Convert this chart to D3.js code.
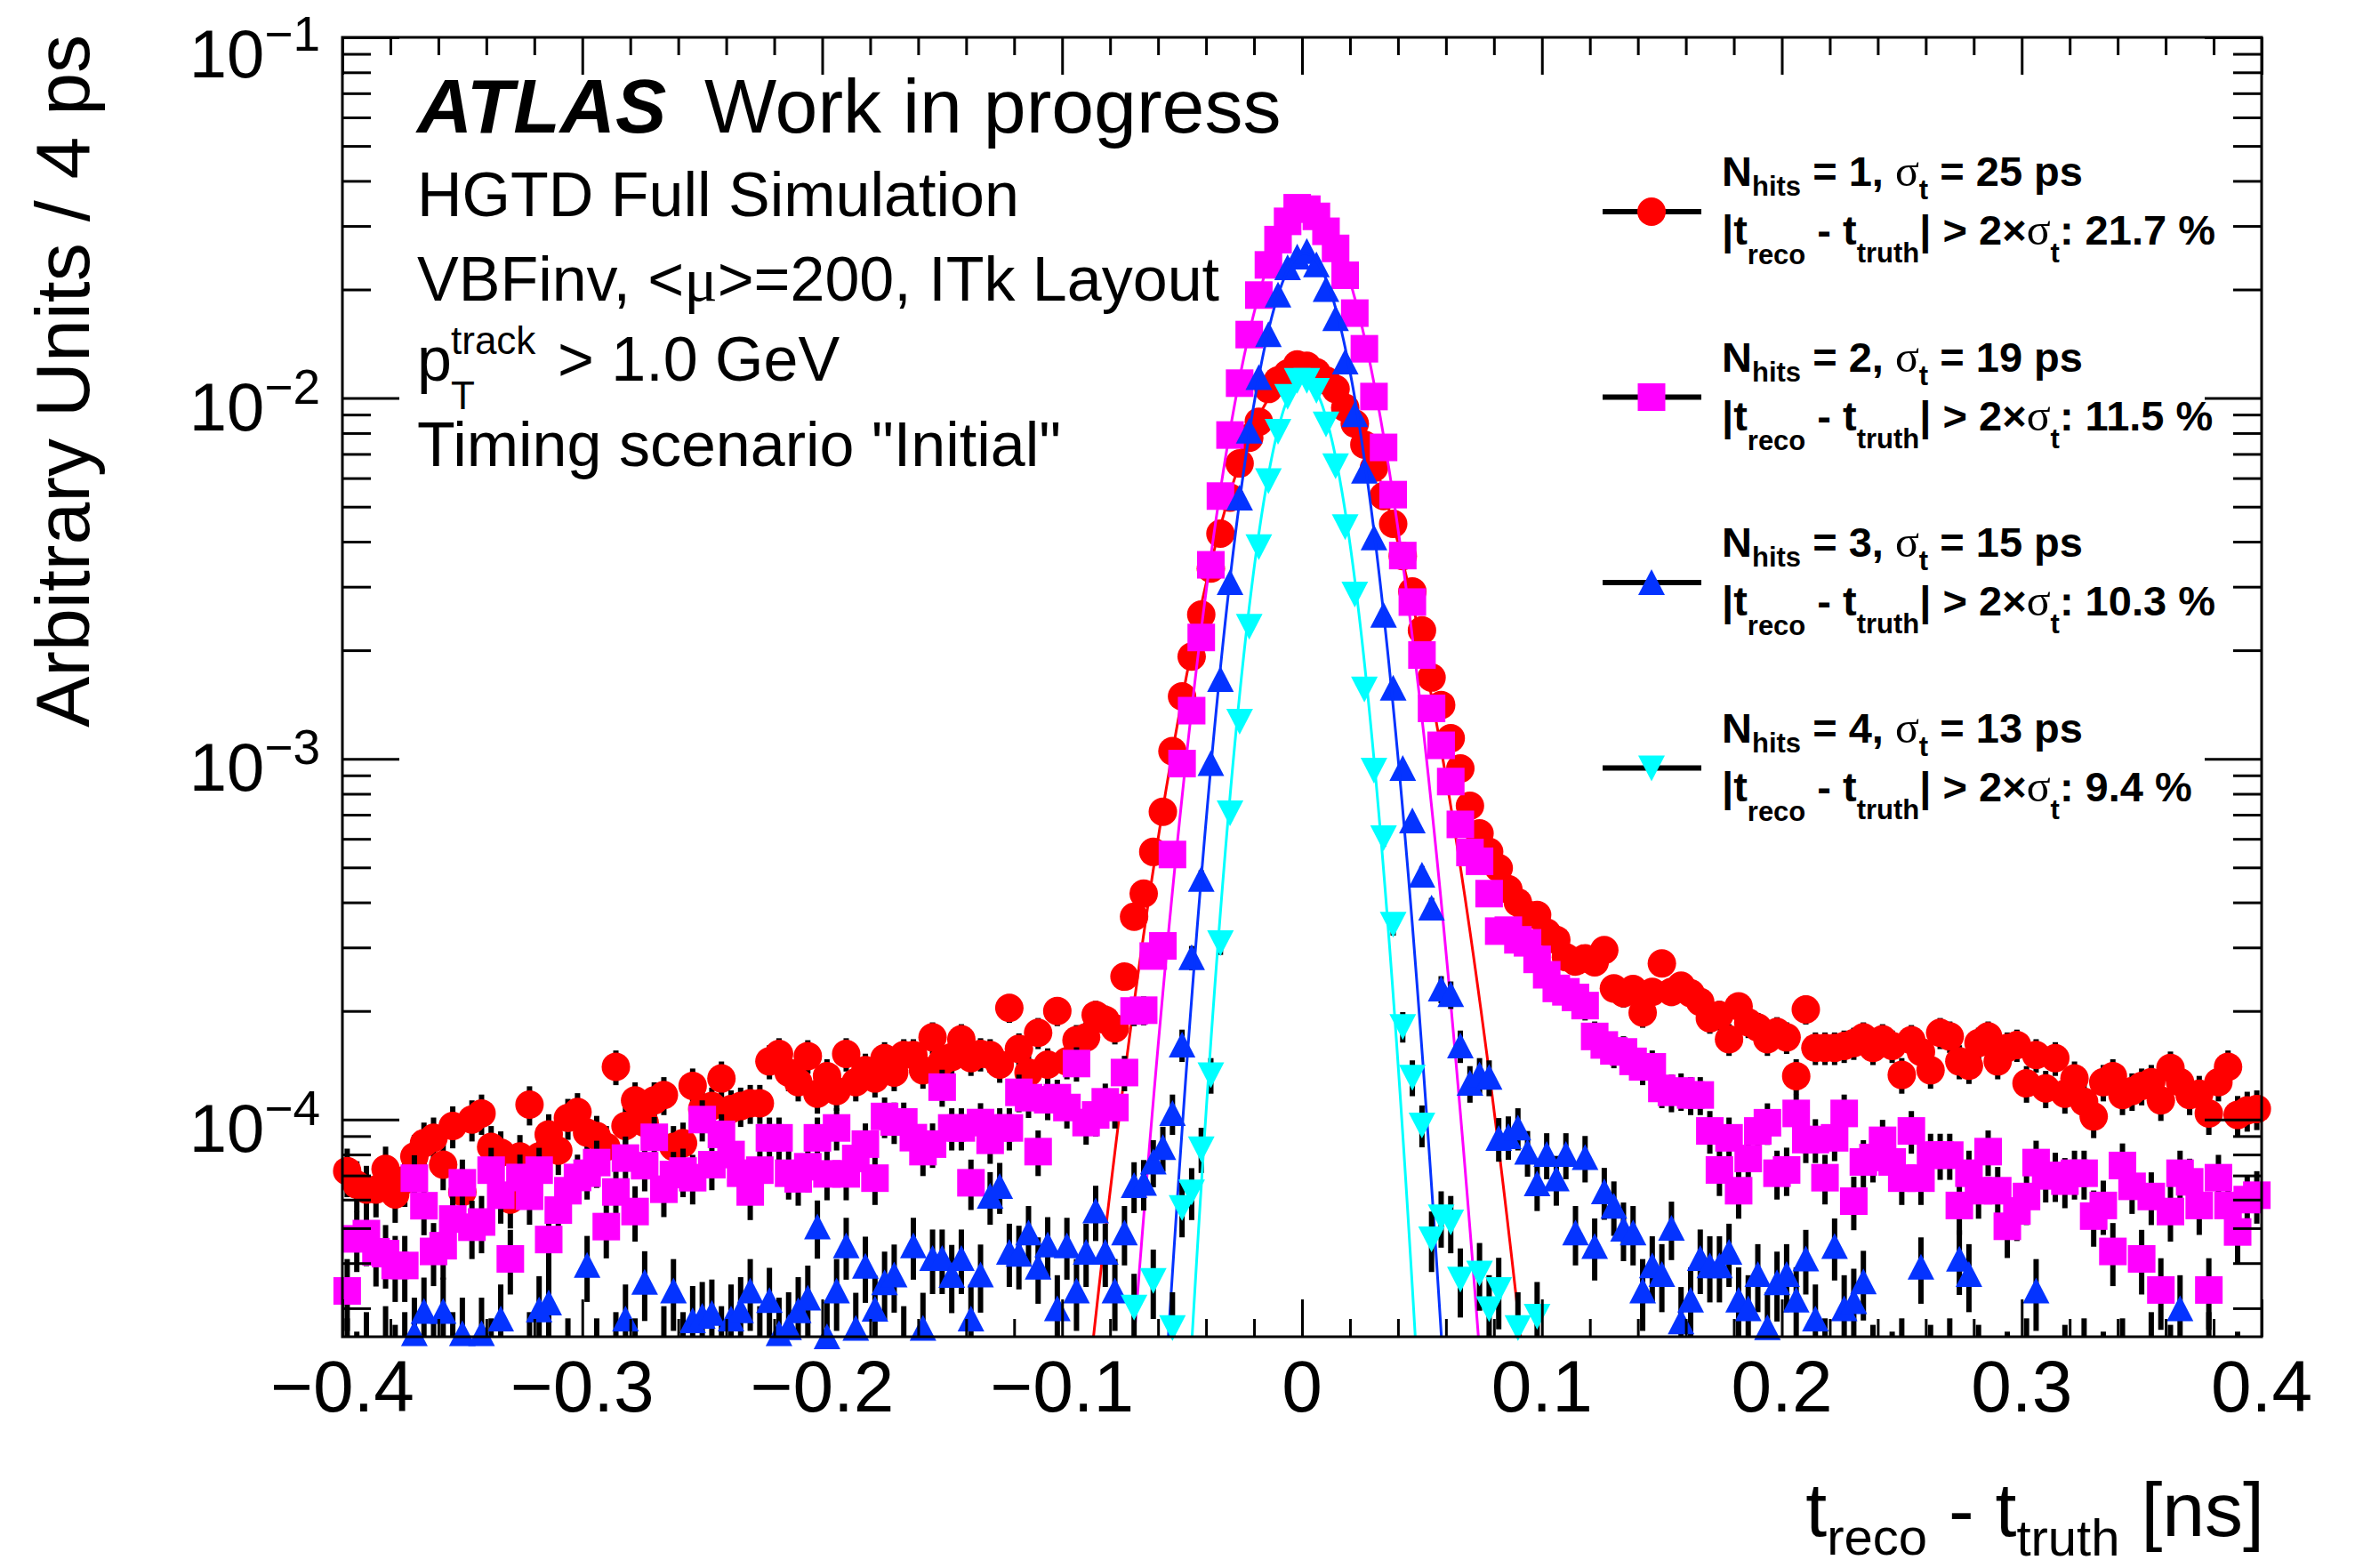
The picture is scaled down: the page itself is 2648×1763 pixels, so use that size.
<!DOCTYPE html>
<html>
<head>
<meta charset="utf-8">
<script src="https://cdn.jsdelivr.net/npm/d3@7"></script>
<style>
  body { margin: 0; background: #fff; }
  text { font-family: "Liberation Sans", Arial, Helvetica, sans-serif; fill: #000; }
  .greek { font-family: "Liberation Serif", "DejaVu Serif", serif; font-weight: normal; }
</style>
</head>
<body>
<svg id="chart" width="2648" height="1763"></svg>
<script>
// histogram binning: 200 bins of 4 ps between -0.4 and 0.4 ns
var xMin = -0.4, xMax = 0.4, nBins = 200;
var UNIT = 1e-5; // bin contents below are in units of 1e-5

// N_hits = 1 (red circles)
var red = [
  7.2, 6.6, 6.4, 6.4, 7.3, 6.2, 6.8, 7.9, 8.6, 8.9,
  7.5, 9.6, 6.3, 10.0, 10.4, 8.4, 8.1, 6.0, 7.9, 11.0,
  7.9, 9.1, 8.2, 10.1, 10.5, 9.2, 9.0, 8.4, 14.0, 9.6,
  11.3, 9.8, 11.3, 11.7, 8.4, 8.6, 12.4, 10.7, 10.9, 13.0,
  10.7, 10.9, 11.1, 11.1, 14.5, 15.2, 13.5, 12.7, 15.0, 11.8,
  13.2, 12.0, 15.2, 12.7, 13.7, 13.0, 14.8, 13.5, 15.1, 15.1,
  13.7, 16.9, 14.5, 14.9, 16.7, 14.8, 15.2, 15.1, 14.2, 20.4,
  15.7, 13.5, 17.4, 14.2, 20.0, 14.5, 16.6, 16.9, 19.5, 18.9,
  17.9, 24.9, 36.5, 42.3, 55.2, 71.3, 105, 149, 192, 251,
  337, 421, 530, 659, 776, 860, 1060, 1120, 1170, 1240,
  1230, 1180, 1120, 1060, 940, 850, 743, 641, 535, 448,
  365, 291, 227, 168, 141, 114, 94, 74.1, 62.1, 55.2,
  49.8, 43.5, 40.0, 37.0, 36.9, 33.0, 31.5, 28.2, 27.4, 28.0,
  27.3, 29.5, 23.1, 22.4, 23.0, 19.8, 22.6, 27.1, 22.6, 23.5,
  22.4, 21.2, 19.1, 19.5, 16.7, 20.6, 18.6, 18.0, 16.7, 17.5,
  16.9, 13.2, 20.2, 15.8, 15.8, 15.8, 16.0, 16.3, 16.9, 15.8,
  16.7, 16.0, 13.3, 16.6, 15.4, 13.7, 17.4, 17.0, 14.5, 14.1,
  16.3, 17.0, 14.5, 15.8, 16.1, 12.6, 15.1, 12.2, 14.8, 11.8,
  13.0, 11.2, 10.2, 12.7, 13.2, 11.7, 12.0, 12.4, 12.7, 11.3,
  13.9, 12.7, 11.7, 11.8, 10.4, 12.7, 14.0, 10.3, 10.6, 10.7
];

// N_hits = 2 (magenta squares)
var magenta = [
  3.35, 4.67, 4.83, 4.3, 4.25, 3.94, 3.94, 6.88, 5.77, 4.31,
  4.47, 5.3, 6.68, 5.03, 5.2, 7.24, 6.17, 4.11, 6.91, 6.13,
  7.24, 4.65, 5.61, 6.35, 6.91, 7.1, 7.6, 5.05, 6.3, 7.82,
  5.56, 7.45, 8.93, 6.41, 7.04, 7.2, 6.9, 10.0, 7.5, 9.1,
  8.0, 7.1, 6.3, 7.24, 8.9, 8.9, 7.1, 6.85, 7.4, 8.9,
  7.07, 9.48, 7.07, 7.8, 8.55, 6.88, 10.2, 9.85, 9.85, 8.91,
  8.15, 8.55, 12.3, 9.48, 9.48, 6.68, 9.81, 8.76, 9.48, 9.48,
  11.9, 11.5, 8.15, 11.35, 11.5, 10.8, 14.3, 9.81, 10.3, 11.2,
  10.8, 13.5, 20.0, 20.1, 28.4, 30.3, 54.3, 97, 136, 217,
  345, 535, 790, 1100, 1500, 1930, 2340, 2750, 3090, 3370,
  3340, 3190, 2900, 2600, 2190, 1720, 1370, 1010, 730, 540,
  366, 272, 194, 138, 109, 86.5, 65.8, 55.0, 52.0, 42.3,
  33.3, 33.5, 31.5, 30.9, 27.8, 25.2, 23.1, 22.6, 21.8, 20.7,
  17.0, 16.1, 15.5, 15.4, 14.5, 14.0, 14.0, 12.2, 11.9, 12.0,
  11.7, 11.7, 9.3, 7.25, 8.9, 6.35, 7.8, 9.3, 9.8, 7.1,
  7.25, 10.4, 8.8, 8.8, 6.9, 8.9, 10.4, 5.94, 7.63, 7.85,
  8.76, 7.63, 6.88, 9.3, 6.88, 7.97, 7.97, 7.97, 5.78, 7.1,
  6.35, 8.15, 6.35, 5.06, 5.58, 6.12, 7.6, 6.98, 7.0, 6.75,
  7.1, 7.1, 5.4, 5.78, 4.31, 7.46, 6.53, 4.11, 6.12, 3.37,
  5.56, 7.1, 6.72, 5.78, 3.37, 6.9, 5.78, 4.88, 6.0, 6.17
];

// N_hits = 3 (blue triangles), 0 = empty bin
var blue = [
  2.2, 2.0, 2.3, 0, 2.4, 2.1, 2.3, 2.55, 2.94, 2.2,
  2.94, 2.3, 2.55, 0, 2.55, 2.2, 2.8, 0, 0, 2.3,
  2.97, 3.1, 0, 2.2, 0, 3.94, 2.2, 0, 2.3, 2.8,
  2.2, 3.54, 0, 2.4, 3.35, 2.3, 2.77, 2.85, 2.9, 2.4,
  2.8, 2.95, 3.35, 2.4, 3.15, 2.55, 2.65, 2.95, 3.2, 5.04,
  2.5, 3.35, 4.47, 2.64, 3.92, 2.98, 3.53, 3.71, 2.4, 4.47,
  2.64, 4.12, 4.12, 3.7, 4.12, 2.8, 3.71, 6.13, 6.53, 4.29,
  4.23, 4.85, 3.9, 4.49, 2.99, 4.47, 3.35, 4.29, 5.58, 4.29,
  3.35, 4.85, 6.56, 6.66, 7.63, 8.36, 10.4, 16.1, 28.1, 46.3,
  97, 166, 308, 528, 810, 1140, 1500, 1930, 2300, 2460,
  2550, 2340, 2000, 1660, 1260, 900, 627, 410, 250, 157,
  94, 67.3, 47.6, 38.6, 23.0, 22.2, 16.0, 12.6, 13.3, 13.1,
  8.87, 8.97, 9.48, 8.12, 6.64, 8.0, 6.85, 8.0, 4.85, 7.85,
  4.45, 6.31, 5.75, 4.97, 4.85, 3.35, 3.93, 3.72, 5.0, 2.75,
  3.16, 4.12, 3.93, 3.93, 4.29, 3.16, 2.99, 3.72, 2.65, 3.53,
  3.72, 3.16, 4.11, 2.8, 2.2, 4.45, 2.99, 3.13, 3.55, 2.1,
  0, 2.0, 2.2, 0, 3.9, 2.1, 0, 2.2, 4.1, 3.72,
  2.1, 0, 0, 2.0, 0, 2.2, 3.35, 0, 0, 2.1,
  0, 2.2, 0, 2.0, 0, 2.2, 0, 0, 2.3, 0,
  2.1, 2.99, 0, 0, 2.3, 0, 0, 2.0, 0, 0
];

// N_hits = 4 (cyan inverted triangles), 0 = empty bin
var cyan = [
  0, 0, 0, 0, 0, 0, 0, 0, 0, 0,
  0, 0, 0, 0, 0, 0, 0, 0, 0, 0,
  0, 0, 0, 0, 0, 0, 0, 0, 0, 0,
  0, 0, 0, 0, 0, 0, 0, 0, 0, 0,
  0, 0, 0, 0, 0, 0, 0, 0, 0, 0,
  0, 0, 0, 0, 0, 0, 0, 0, 0, 0,
  0, 0, 0, 0, 0, 0, 0, 0, 0, 0,
  0, 0, 0, 0, 0, 0, 0, 0, 0, 0,
  0, 0, 3.02, 0, 3.58, 0, 2.65, 5.7, 6.3, 8.3,
  13.3, 30.9, 70.8, 127, 233, 387, 590, 809, 1010, 1120,
  1120, 1050, 847, 649, 440, 286, 156, 93, 60.4, 34.8,
  18.1, 13.1, 9.66, 4.67, 5.37, 5.2, 3.61, 0, 3.75, 2.99,
  3.38, 0, 2.65, 0, 2.85, 0, 0, 0, 0, 0,
  0, 0, 0, 0, 0, 0, 0, 0, 0, 0,
  0, 0, 0, 0, 0, 0, 0, 0, 0, 0,
  0, 0, 0, 0, 0, 0, 0, 0, 0, 0,
  0, 0, 0, 0, 0, 0, 0, 0, 0, 0,
  0, 0, 0, 0, 0, 0, 0, 0, 0, 0,
  0, 0, 0, 0, 0, 0, 0, 0, 0, 0,
  0, 0, 0, 0, 0, 0, 0, 0, 0, 0
];

// weight of one entry, gives the Poisson error bars
var entryWeight = 1.7e-6;

// gaussian fit results (ns)
var fitAmp = [0.0122, 0.0335, 0.0252, 0.0113];
var fitMean = [0.0021, 0.0018, 0.0012, 0.0007];
var fitSigma = [0.0253, 0.0189, 0.0153, 0.0133];

// legend
var nHits = [1, 2, 3, 4];
var sigmaPs = [25, 19, 15, 13];
var tailPct = ["21.7", "11.5", "10.3", "9.4"];

var xTicks = [-0.4, -0.3, -0.2, -0.1, 0, 0.1, 0.2, 0.3, 0.4];
var xTickLabels = ["\u22120.4", "\u22120.3", "\u22120.2", "\u22120.1", "0", "0.1", "0.2", "0.3", "0.4"];
var yTicks = [1e-4, 1e-3, 1e-2, 1e-1];
var yTickExp = ["\u22124", "\u22123", "\u22122", "\u22121"];

var colors = ["#ff0000", "#ff00ff", "#0433ff", "#00ffff"];
var shapes = ["circle", "square", "up", "down"];
var allSeries = [red, magenta, blue, cyan];

var svg = d3.select("#chart");
var padL = 385, padR = 2543, padT = 42, padB = 1503;
var yMin = 2.5e-5, yMax = 0.1;

var x = d3.scaleLinear().domain([xMin, xMax]).range([padL, padR]);
var y = d3.scaleLog().domain([yMin, yMax]).range([padB, padT]);

svg.append("rect").attr("width", 2648).attr("height", 1763).attr("fill", "#fff");

svg.append("defs").append("clipPath").attr("id", "frame")
  .append("rect").attr("x", padL).attr("y", padT)
  .attr("width", padR - padL).attr("height", padB - padT);

var binWidth = (xMax - xMin) / nBins;
var centers = d3.range(nBins).map(function (i) { return xMin + (i + 0.5) * binWidth; });

function markerPath(shape) {
  if (shape === "circle") return "M-16,0A16,16 0 1,0 16,0A16,16 0 1,0 -16,0Z";
  if (shape === "square") return "M-15.5,-15.5H15.5V15.5H-15.5Z";
  if (shape === "up") return "M0,-15L15,14L-15,14Z";
  return "M0,15L15,-14L-15,-14Z";
}

var gaussian = function (s, t) {
  return fitAmp[s] * Math.exp(-Math.pow(t - fitMean[s], 2) / (2 * fitSigma[s] * fitSigma[s]));
};

var line = d3.line()
  .x(function (d) { return x(d[0]); })
  .y(function (d) { return y(d[1]); });

allSeries.forEach(function (vals, s) {
  var pts = vals.map(function (v, i) { return { x: centers[i], v: v * UNIT }; })
    .filter(function (d) { return d.v > 0; });

  var g = svg.append("g").attr("class", "series");

  // error bars
  g.append("g").attr("clip-path", "url(#frame)")
    .selectAll("line")
    .data(pts)
    .enter().append("line")
    .attr("x1", function (d) { return x(d.x); })
    .attr("x2", function (d) { return x(d.x); })
    .attr("y1", function (d) { return y(d.v + Math.sqrt(d.v * entryWeight)); })
    .attr("y2", function (d) { return y(Math.max(d.v - Math.sqrt(d.v * entryWeight), 1e-7)); })
    .attr("stroke", "#000")
    .attr("stroke-width", 6);

  // markers
  g.append("g")
    .selectAll("path")
    .data(pts.filter(function (d) { return d.v >= yMin && d.v <= yMax; }))
    .enter().append("path")
    .attr("d", markerPath(shapes[s]))
    .attr("transform", function (d) { return "translate(" + x(d.x) + "," + y(d.v) + ")"; })
    .attr("fill", colors[s]);

  // fit
  var fx = d3.range(fitMean[s] - 6 * fitSigma[s], fitMean[s] + 6 * fitSigma[s], 0.0004);
  g.append("path")
    .datum(fx.map(function (t) { return [t, gaussian(s, t)]; }))
    .attr("clip-path", "url(#frame)")
    .attr("d", line)
    .attr("fill", "none")
    .attr("stroke", colors[s])
    .attr("stroke-width", 3);
});

// axes (ticks inward on all four sides)
var xMinor = d3.range(-0.4, 0.4001, 0.02).filter(function (t) {
  return Math.abs(t * 10 - Math.round(t * 10)) > 1e-6;
});
var yMinor = [];
[1e-5, 1e-4, 1e-3, 1e-2].forEach(function (dec) {
  d3.range(2, 10).forEach(function (k) {
    var v = k * dec;
    if (v >= yMin && v <= yMax) yMinor.push(v);
  });
});

function styleAxis(sel) {
  sel.select(".domain").remove();
  sel.selectAll("line").attr("stroke", "#000").attr("stroke-width", 3);
}

svg.append("g").attr("transform", "translate(0," + padB + ")")
  .call(d3.axisBottom(x).tickValues(xTicks).tickSize(-42).tickFormat("")).call(styleAxis);
svg.append("g").attr("transform", "translate(0," + padB + ")")
  .call(d3.axisBottom(x).tickValues(xMinor).tickSize(-20).tickFormat("")).call(styleAxis);
svg.append("g").attr("transform", "translate(0," + padT + ")")
  .call(d3.axisTop(x).tickValues(xTicks).tickSize(-42).tickFormat("")).call(styleAxis);
svg.append("g").attr("transform", "translate(0," + padT + ")")
  .call(d3.axisTop(x).tickValues(xMinor).tickSize(-20).tickFormat("")).call(styleAxis);
svg.append("g").attr("transform", "translate(" + padL + ",0)")
  .call(d3.axisLeft(y).tickValues(yTicks).tickSize(-64).tickFormat("")).call(styleAxis);
svg.append("g").attr("transform", "translate(" + padL + ",0)")
  .call(d3.axisLeft(y).tickValues(yMinor).tickSize(-32).tickFormat("")).call(styleAxis);
svg.append("g").attr("transform", "translate(" + padR + ",0)")
  .call(d3.axisRight(y).tickValues(yTicks).tickSize(-64).tickFormat("")).call(styleAxis);
svg.append("g").attr("transform", "translate(" + padR + ",0)")
  .call(d3.axisRight(y).tickValues(yMinor).tickSize(-32).tickFormat("")).call(styleAxis);

svg.append("rect")
  .attr("x", padL).attr("y", padT)
  .attr("width", padR - padL).attr("height", padB - padT)
  .attr("fill", "none").attr("stroke", "#000").attr("stroke-width", 3);

// tick labels
svg.append("g").selectAll("text")
  .data(xTicks)
  .enter().append("text")
  .attr("x", function (d) { return x(d); })
  .attr("y", 1587)
  .attr("text-anchor", "middle")
  .attr("font-size", 82)
  .text(function (d, i) { return xTickLabels[i]; });

var yl = svg.append("g").selectAll("text")
  .data(yTicks)
  .enter().append("text")
  .attr("x", 360)
  .attr("y", function (d) { return y(d) + 36 + (d === yMax ? 9 : 0); })
  .attr("text-anchor", "end")
  .attr("font-size", 76);
yl.append("tspan").text("10");
yl.append("tspan").attr("font-size", 55).attr("dy", -30).text(function (d, i) { return yTickExp[i]; });

// axis titles
svg.append("text")
  .attr("transform", "translate(100,39) rotate(-90)")
  .attr("text-anchor", "end")
  .attr("font-size", 86)
  .text("Arbitrary Units / 4 ps");

var xt = svg.append("text")
  .attr("x", 2546).attr("y", 1727)
  .attr("text-anchor", "end")
  .attr("font-size", 86);
xt.append("tspan").text("t");
xt.append("tspan").attr("font-size", 58).attr("dy", 21).text("reco");
xt.append("tspan").attr("dy", -21).text(" - t");
xt.append("tspan").attr("font-size", 58).attr("dy", 22).text("truth");
xt.append("tspan").attr("dy", -22).text(" [ns]");

// ATLAS label and info
svg.append("text").attr("x", 469).attr("y", 149)
  .attr("font-size", 86).attr("font-weight", "bold").attr("font-style", "italic")
  .text("ATLAS");
svg.append("text").attr("x", 792).attr("y", 149)
  .attr("font-size", 86).text("Work in progress");

svg.append("text").attr("x", 469).attr("y", 243).attr("font-size", 70)
  .text("HGTD Full Simulation");

var l3 = svg.append("text").attr("x", 469).attr("y", 338).attr("font-size", 70);
l3.append("tspan").text("VBFinv, <");
l3.append("tspan").attr("class", "greek").text("\u03bc");
l3.append("tspan").text(">=200, ITk Layout");

var l4 = svg.append("text").attr("x", 469).attr("y", 428).attr("font-size", 70);
l4.append("tspan").text("p");
l4.append("tspan").attr("x", 507).attr("dy", -30).attr("font-size", 44).text("track");
l4.append("tspan").attr("x", 507).attr("dy", 62).attr("font-size", 44).text("T");
l4.append("tspan").attr("x", 627).attr("dy", -32).text("> 1.0 GeV");

svg.append("text").attr("x", 469).attr("y", 524).attr("font-size", 70)
  .text("Timing scenario \"Initial\"");

// legend
var legend = svg.append("g").selectAll("g")
  .data(nHits)
  .enter().append("g")
  .attr("transform", function (d, i) { return "translate(0," + (238 + 208.5 * i) + ")"; });

legend.append("line")
  .attr("x1", 1802).attr("x2", 1913)
  .attr("stroke", "#000").attr("stroke-width", 6);
legend.append("path")
  .attr("d", function (d, i) { return markerPath(shapes[i]); })
  .attr("transform", "translate(1857,0)")
  .attr("fill", function (d, i) { return colors[i]; });

var t1 = legend.append("text").attr("x", 1936).attr("y", -29)
  .attr("font-size", 47).attr("font-weight", "bold");
t1.append("tspan").text("N");
t1.append("tspan").attr("font-size", 31).attr("dy", 11).text("hits");
t1.append("tspan").attr("dy", -11).text(function (d) { return " = " + d + ",  "; });
t1.append("tspan").attr("class", "greek").attr("font-size", 50).text("\u03c3");
t1.append("tspan").attr("font-size", 31).attr("dy", 15).text("t");
t1.append("tspan").attr("dy", -15).text(function (d, i) { return " = " + sigmaPs[i] + " ps"; });

var t2 = legend.append("text").attr("x", 1936).attr("y", 37)
  .attr("font-size", 47).attr("font-weight", "bold");
t2.append("tspan").text("|t");
t2.append("tspan").attr("font-size", 31).attr("dy", 22).text("reco");
t2.append("tspan").attr("dy", -22).text(" - t");
t2.append("tspan").attr("font-size", 31).attr("dy", 20).text("truth");
t2.append("tspan").attr("dy", -20).text("| > 2\u00d7");
t2.append("tspan").attr("class", "greek").attr("font-size", 50).text("\u03c3");
t2.append("tspan").attr("font-size", 31).attr("dy", 20).text("t");
t2.append("tspan").attr("dy", -20).text(function (d, i) { return ": " + tailPct[i] + " %"; });
</script>
</body>
</html>
